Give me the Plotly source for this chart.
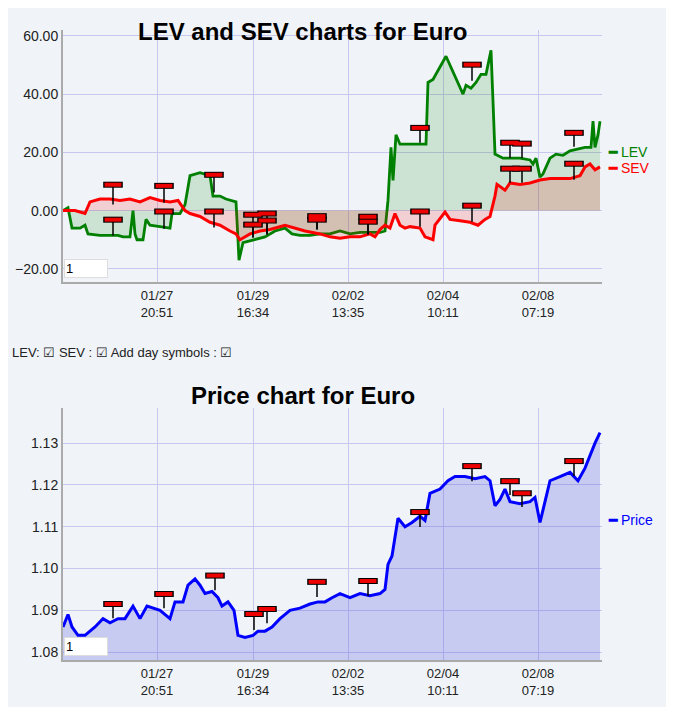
import plotly.graph_objects as go

# time index (trading-time units)
lev_t = [0,5,9,17,22,25,37,55,60,67,70,72,74,80,83,87,97,107,109,117,122,127,137,147,150,157,163,173,175,176,180,192,202,212,222,229,237,247,257,267,277,287,297,307,317,322,325,328,330,333,337,343,363,365,370,383,390,400,403,408,413,418,423,428,430,432,440,457,467,470,473,477,480,487,493,500,507,522,528,530,532,535,537]
lev_v = [0,1,-6,-6,-5,-8,-8.5,-8.5,-9,-9,0,-8,-10,-10,-3,-5,-5.5,-6,-1,-1,2,12,13,12,5,5,4,3,-10,-17,-11,-10,-9,-7,-6,-8,-8.5,-8.5,-8,-8,-7,-8,-7.5,-7.5,-7.5,-7,3.6,21.7,10.4,26,22.8,22.8,22.8,44,45,53,47.7,40,43,42,44,46.8,46.8,55,37.5,19.4,18,18,17.4,16,18,11.5,12.6,18,19.4,19,20.5,21.7,21.7,30.7,21.7,26,30.7]

sev_t = [0,12,22,27,37,47,57,67,77,87,97,107,115,122,127,137,147,157,167,173,177,187,197,207,222,232,242,257,267,277,287,297,307,312,317,322,327,332,337,342,347,357,362,370,372,382,387,397,407,415,422,427,432,434,442,447,457,467,477,487,497,507,517,522,527,532,537]
sev_v = [0,0,-1,3,4,4,3.5,4,3,4.5,3.5,3,3.5,0,-1,-2,-4,-5,-7,-8,-10,-8,-7,-6.5,-5,-6,-7,-8,-9,-9.5,-9,-9,-8,-9,-6.5,-5,-6,-1,-5,-6,-5.5,-6,-9,-10,-5,-0.5,-3,-3.5,-4,-5,-3,-2,5,9,7,9.5,9,9.5,10.5,11,11,11,12,15,16,14,15]

price_t = [0,5,9,15,22,32,40,47,55,62,70,77,84,90,97,107,112,120,125,132,137,142,149,155,159,165,171,175,182,190,195,202,209,217,227,237,247,255,262,269,277,287,297,307,317,322,325,329,335,342,349,357,362,367,377,385,392,402,412,422,427,432,437,442,447,457,467,472,477,482,487,497,507,515,522,527,532,537]
price_v = [1.086,1.089,1.086,1.084,1.084,1.086,1.088,1.087,1.088,1.088,1.091,1.088,1.091,1.0905,1.090,1.088,1.092,1.092,1.096,1.0975,1.096,1.094,1.0945,1.093,1.091,1.092,1.090,1.084,1.0835,1.084,1.085,1.085,1.086,1.088,1.090,1.0905,1.0915,1.092,1.092,1.093,1.094,1.093,1.094,1.0935,1.094,1.095,1.101,1.103,1.112,1.110,1.111,1.1125,1.1115,1.118,1.119,1.121,1.122,1.122,1.1215,1.122,1.121,1.115,1.1165,1.119,1.116,1.1155,1.116,1.117,1.111,1.116,1.121,1.122,1.123,1.121,1.124,1.127,1.130,1.1325]

# day symbols (time, flag level, line level)
flag_t = [50,50,101,101,151,151,190,190,204,204,254,254,305,305,357,357,409,409,447,447,459,459,511,511]
flag_top = [8.9,-3.1,8.5,-0.3,12.3,-0.3,-1.4,-4.8,-1.0,-3.4,-1.9,-3.1,-2.1,-3.8,28.4,-0.3,50.1,1.7,23.3,14.4,23.0,14.4,26.7,16.1]
flag_base = [2.1,-8.5,2.7,-6.2,6.2,-5.8,-9.2,-9.2,-8.2,-8.2,-6.5,-6.5,-8.2,-8.2,23.3,-5.5,44.6,-3.8,18.1,9.6,18.1,9.6,21.9,10.6]
pflag_t = [50,101,152,191,204,254,305,357,409,447,459,511]
pflag_top = [1.0915,1.0939,1.0983,1.0891,1.0903,1.0968,1.097,1.1135,1.1245,1.1209,1.118,1.1257]
pflag_base = [1.0881,1.0905,1.0948,1.0853,1.0869,1.0932,1.0934,1.1099,1.1209,1.1176,1.1147,1.1221]

tick_vals = [94,190,285,380,475]
tick_text = ["01/27<br>20:51","01/29<br>16:34","02/02<br>13:35","02/04<br>10:11","02/08<br>07:19"]

fig = go.Figure()

def stems(ts, tops, bases, xa, ya):
    xs, ys = [], []
    for t, a, b in zip(ts, tops, bases):
        xs += [t, t, None]; ys += [b, a, None]
    fig.add_trace(go.Scatter(x=xs, y=ys, mode="lines", line=dict(color="black", width=1.5),
                             xaxis=xa, yaxis=ya, showlegend=False, hoverinfo="skip"))
    fig.add_trace(go.Scatter(x=ts, y=tops, mode="markers", xaxis=xa, yaxis=ya, showlegend=False,
                             marker=dict(symbol="line-ew", size=14, line=dict(color="black", width=6)), hoverinfo="skip"))
    fig.add_trace(go.Scatter(x=ts, y=tops, mode="markers", xaxis=xa, yaxis=ya, showlegend=False,
                             marker=dict(symbol="line-ew", size=12, line=dict(color="#ee0000", width=4)), hoverinfo="skip"))

fig.add_trace(go.Scatter(x=lev_t, y=lev_v, name="LEV", mode="lines", line=dict(color="#008000", width=2.8),
                         fill="tozeroy", fillcolor="rgba(0,128,0,0.15)", showlegend=False))
fig.add_trace(go.Scatter(x=sev_t, y=sev_v, name="SEV", mode="lines", line=dict(color="#ff0000", width=3),
                         fill="tozeroy", fillcolor="rgba(255,0,0,0.15)", showlegend=False))
stems(flag_t, flag_top, flag_base, "x", "y")
fig.add_trace(go.Scatter(x=price_t, y=price_v, name="Price", mode="lines", line=dict(color="#0000ff", width=3),
                         fill="tozeroy", fillcolor="rgba(60,60,220,0.22)", xaxis="x2", yaxis="y2", showlegend=False))
stems(pflag_t, pflag_top, pflag_base, "x2", "y2")

ax = dict(range=[0,539], tickvals=tick_vals, ticktext=tick_text, showgrid=True, gridcolor="#c8c8ee", automargin=False,
          showline=True, linecolor="#aaaaaa", linewidth=2, zeroline=False, ticks="", tickfont=dict(size=13, color="#222"))
yax = dict(gridcolor="#c8c8ee", showline=True, linecolor="#aaaaaa", linewidth=2, zeroline=False,
           tickfont=dict(size=14, color="#222"), automargin=False, tickformat=".2f")
W, H, OFF = 666, 699, 8
def py(p):
    return (H - (p - OFF)) / H
fig.update_layout(
    width=W, height=H, margin=dict(l=63 - OFF, r=W - (602 - OFF), t=0, b=0),
    paper_bgcolor="#f0f4f8", plot_bgcolor="#f0f4f8",
    font=dict(family="Arial, Liberation Sans", size=13, color="#222"),
    xaxis=dict(domain=[0,1], anchor="y", **ax),
    xaxis2=dict(domain=[0,1], anchor="y2", **ax),
    yaxis=dict(domain=[py(282), py(30)], range=[-24.5,62], tickvals=[-20,0,20,40,60], **yax),
    yaxis2=dict(domain=[py(660), py(408)], range=[1.0781,1.1384], dtick=0.01, **yax),
    annotations=[
        dict(text="<b>LEV and SEV charts for Euro</b>", x=0.445, y=py(16), xref="paper", yref="paper", showarrow=False, font=dict(size=24, color="black")),
        dict(text="<b>Price chart for Euro</b>", x=0.445, y=py(395), xref="paper", yref="paper", showarrow=False, font=dict(size=24, color="black")),
        dict(text="LEV: ☑ SEV : ☑ Add day symbols : ☑", x=-0.098, y=py(352), xref="paper", yref="paper", xanchor="left", showarrow=False, font=dict(size=13, color="#222")),
        dict(text="<b>━</b> LEV", x=1.008, y=py(142), xref="paper", yref="paper", xanchor="left", showarrow=False, font=dict(size=14, color="#008000")),
        dict(text="<b>━</b> SEV", x=1.008, y=py(158), xref="paper", yref="paper", xanchor="left", showarrow=False, font=dict(size=14, color="#ff0000")),
        dict(text="<b>━</b> Price", x=1.008, y=py(530), xref="paper", yref="paper", xanchor="left", showarrow=False, font=dict(size=14, color="#0000ff")),
        dict(text="1         ", x=0.002, y=py(278), xref="paper", yref="paper", xanchor="left", yanchor="bottom", showarrow=False, bgcolor="white", bordercolor="#dddddd", font=dict(size=13, color="black")),
        dict(text="1         ", x=0.002, y=py(656), xref="paper", yref="paper", xanchor="left", yanchor="bottom", showarrow=False, bgcolor="white", bordercolor="#dddddd", font=dict(size=13, color="black")),
    ],
)
fig.write_html("out.html")
